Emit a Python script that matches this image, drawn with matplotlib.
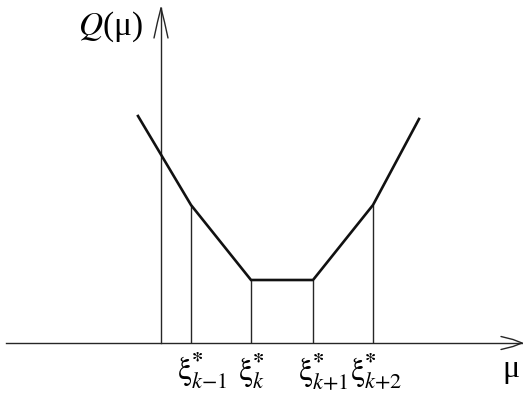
import matplotlib.pyplot as plt

plt.rcParams['font.family'] = ['Liberation Serif', 'DejaVu Serif']
plt.rcParams['mathtext.fontset'] = 'stix'

# piecewise linear Q(mu): breakpoints xi*_k and the values there
xi = [3.0, 9.0, 15.2, 21.2]
q_at_xi = [13.8, 6.3, 6.3, 13.8]
mu_ends = [-2.3, 25.8]
q_ends = [22.7, 22.4]
xi_subs = ['k{-}1', 'k', 'k{+}1', 'k{+}2']

mu = [mu_ends[0]] + xi + [mu_ends[1]]
q = [q_ends[0]] + q_at_xi + [q_ends[1]]

fig = plt.figure(figsize=(5.23, 3.95), dpi=100)
ax = fig.add_axes([0, 0, 1, 1])
ax.set_xlim(-16.1, 36.2)
ax.set_ylim(-5.2, 34.3)
ax.axis('off')

axis_col = '#262626'
x_end, y_end = 36.1, 33.5
ax.plot([-15.5, x_end], [0, 0], color=axis_col, lw=1.0)
ax.plot([0, 0], [0, y_end], color=axis_col, lw=1.0)

# open arrow heads, arms bent slightly like the TeX arrow
for s in (1, -1):
    ax.plot([x_end - 2.1, x_end - 0.9, x_end], [0.65 * s, 0.35 * s, 0],
            color=axis_col, lw=1.0, solid_capstyle='round')
    ax.plot([0.7 * s, 0.35 * s, 0], [y_end - 3.0, y_end - 1.4, y_end],
            color=axis_col, lw=1.0, solid_capstyle='round')

# drop lines from the breakpoints
ax.vlines(xi, 0, q_at_xi, colors=axis_col, lw=1.0)

ax.plot(mu, q, color='#111111', lw=1.9, solid_joinstyle='miter')

# tick labels xi*_k under the breakpoints
label_shift = [-1.4, -1.3, -1.55, -2.3]
for x, sub, dx in zip(xi, xi_subs, label_shift):
    ax.text(x + dx, -3.7, r'$\mathrm{\xi}^{\mathbf{*}}_{%s}$' % sub,
            fontsize=23, ha='left', va='baseline')

ax.text(-8.3, 30.8, r'$Q$(μ)', fontsize=24, ha='left', va='baseline')
ax.text(35.0, -3.4, 'μ', fontsize=23, ha='center', va='baseline')

fig.savefig('out.png', dpi=100)
